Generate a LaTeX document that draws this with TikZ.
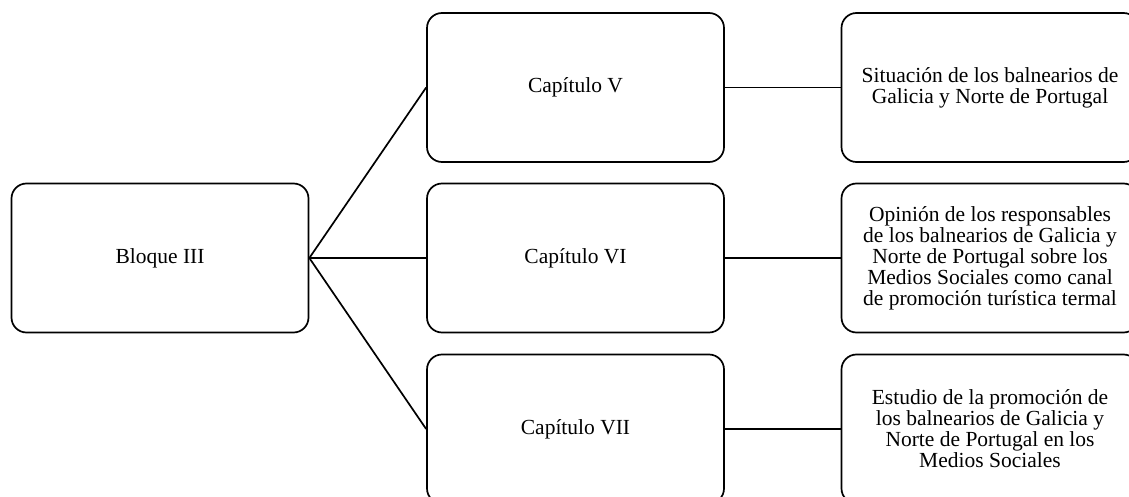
\documentclass[tikz,border=0pt]{standalone}
\usepackage{fontspec}
\setmainfont{Liberation Serif}
\begin{document}
\begin{tikzpicture}[x=1pt,y=-1pt,
  box/.style={draw,line width=1.7pt,rounded corners=15pt,minimum width=297pt,
    minimum height=149pt,inner sep=2pt,align=center,
    font=\fontsize{21.5}{21}\selectfont},
  link/.style={line width=1.7pt}]
\useasboundingbox (0,0) rectangle (1129,497);
\clip (0,0) rectangle (1129,497);
% root and chapters
\node[box] (b3) at (160,258) {Bloque III};
\node[box] (c5) at (575.5,87.5) {Capítulo V};
\node[box] (c6) at (575.5,258) {Capítulo VI};
\node[box] (c7) at (575.5,429) {Capítulo VII};
% chapter summaries
\node[box] (s5) at (990,87.5) {Situación de los balnearios de\\Galicia y Norte de Portugal};
\node[box] (s6) at (990,258) {Opinión de los responsables\\de los balnearios de Galicia y\\Norte de Portugal sobre los\\Medios Sociales como canal\\de promoción turística termal};
\node[box] (s7) at (990,429) {Estudio de la promoción de\\los balnearios de Galicia y\\Norte de Portugal en los\\Medios Sociales};
% connectors
\draw[link] (b3.east) -- (c5.west);
\draw[link] (b3.east) -- (c6.west);
\draw[link] (b3.east) -- (c7.west);
\draw[link] (c5.east) -- (s5.west);
\draw[link] (c6.east) -- (s6.west);
\draw[link] (c7.east) -- (s7.west);
\end{tikzpicture}
\end{document}
